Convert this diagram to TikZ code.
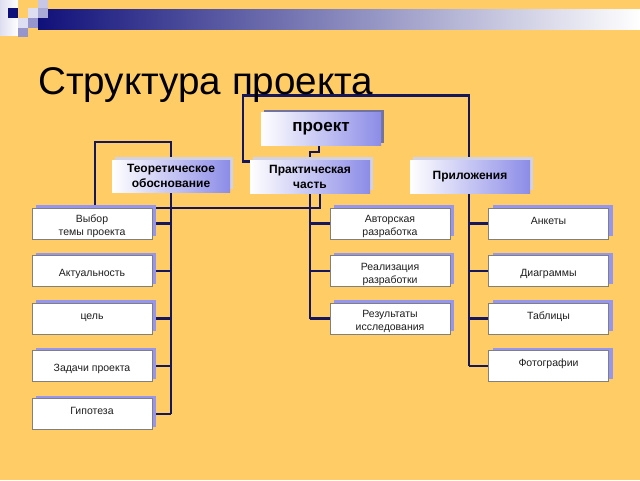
\documentclass[tikz,border=0pt]{standalone}
\usepackage{fontspec}
\setmainfont{Liberation Sans}
\usetikzlibrary{shadows,calc}
\pgfdeclarelayer{back}
\pgfdeclarelayer{lines}
\pgfsetlayers{back,lines,main}
\definecolor{bgor}{RGB}{255,204,102}
\definecolor{navyline}{RGB}{22,22,92}
\definecolor{boxblue}{RGB}{140,140,232}
\definecolor{shleaf}{RGB}{150,150,240}
\definecolor{shhead}{RGB}{210,210,230}
\definecolor{shproj}{RGB}{115,115,160}
\definecolor{barnavy}{RGB}{16,16,122}
\definecolor{barmid}{RGB}{130,130,192}
\definecolor{sqa}{RGB}{200,200,230}
\definecolor{sqb}{RGB}{222,222,242}
\definecolor{sqc}{RGB}{170,170,215}
\definecolor{sqd}{RGB}{150,150,205}
\definecolor{leafgray}{RGB}{128,128,128}
\definecolor{txt}{RGB}{30,30,30}
\newcommand{\lowstrut}{\rule{0pt}{14pt}}
\begin{document}
\begin{tikzpicture}[x=1pt,y=-1pt,
  leaf/.style={draw=leafgray, line width=0.6pt, fill=white, minimum width=120pt,
    minimum height=31pt, inner sep=0pt, align=center, text=txt,
    font=\fontsize{10.5}{13}\selectfont,
    general shadow={fill=shleaf, shadow xshift=4pt, shadow yshift=3pt}},
  head/.style={left color=white, right color=boxblue, minimum width=118pt,
    minimum height=32pt, inner sep=0pt, align=center,
    font=\bfseries\fontsize{12}{15}\selectfont,
    general shadow={fill=#1, shadow xshift=3pt, shadow yshift=3pt}},
  head/.default=shhead,
  conn/.style={draw=navyline, line width=2.2pt}]

\begin{pgfonlayer}{back}
  \fill[bgor] (0,0) rectangle (640,480);
  \shade[left color=barnavy, middle color=barmid, right color=white] (38,9) rectangle (640,29);
  \shade[left color=sqb, right color=white] (0,0) rectangle (18,35);
  \fill[barnavy] (8,8) rectangle (18,18);
  \fill[sqa] (38,0) rectangle (48,8);
  \fill[sqb] (28,8) rectangle (38,18);
  \fill[sqc] (38,8) rectangle (48,18);
  \fill[sqb] (18,18) rectangle (28,28);
  \fill[sqd] (28,18) rectangle (38,28);
  \fill[sqd] (18,28) rectangle (28,37);
\end{pgfonlayer}

\node[anchor=base west, inner sep=0pt, font=\fontsize{38.6}{44}\selectfont] (title) at (38,94) {Структура проекта};

\node[head=shproj, minimum width=120pt, minimum height=33pt,
  font=\bfseries\fontsize{17}{19}\selectfont] (proj) at (321,129) {проект};
\node[head] (teor) at (171,176) {Теоретическое\\обоснование};
\node[head, minimum width=120pt, minimum height=33pt] (prak) at (310,176.5) {Практическая\\часть};
\node[head, minimum width=120pt, minimum height=33pt] (pril) at (470,176.5) {Приложения};

\node[leaf] (vybor) at (92,223.5) {\lowstrut Выбор\\темы проекта};
\node[leaf] (akt) at (92,271) {\lowstrut Актуальность};
\node[leaf] (cel) at (92,318.5) {\lowstrut цель\\~};
\node[leaf] (zad) at (92,366) {\lowstrut Задачи проекта};
\node[leaf] (gip) at (92,414) {\lowstrut Гипотеза\\~};

\node[leaf] (avt) at (390,223.5) {\lowstrut Авторская\\разработка};
\node[leaf] (real) at (390,271) {\lowstrut Реализация\\разработки};
\node[leaf] (res) at (390,318.5) {\lowstrut Результаты\\исследования};

\node[leaf] (ank) at (548.5,223.5) {\lowstrut Анкеты\\~};
\node[leaf] (diag) at (548.5,271) {\lowstrut Диаграммы};
\node[leaf] (tab) at (548.5,318.5) {\lowstrut Таблицы\\~};
\node[leaf] (foto) at (548.5,366) {\lowstrut Фотографии\\~};

\begin{pgfonlayer}{lines}
  % theoretical branch
  \draw[conn] (teor.south) -- (teor.south |- gip.east);
  \foreach \n in {vybor,akt,cel,zad,gip}
    \draw[conn] (\n.east) -- (teor.south |- \n.east);
  \draw[conn] ([xshift=3pt]vybor.north) -- ++(0,-66) -| (teor.north);
  % practical branch
  \draw[conn] ([xshift=-2pt]proj.south) -- ++(0,6) -| (prak.center |- res.west);
  \foreach \n in {avt,real,res}
    \draw[conn] (\n.west) -- (prak.center |- \n.west);
  \draw[conn] ([xshift=10pt]prak.south) |- (vybor.north east);
  \draw[conn] ([yshift=15pt]prak.west) -| ++(-7,-66) -| ([xshift=-1pt]pril.north);
  % appendix branch
  \draw[conn] ([xshift=-1pt]pril.south) -- ([xshift=-1pt]pril.south |- foto.west);
  \foreach \n in {ank,diag,tab,foto}
    \draw[conn] (\n.west) -- ([xshift=-1pt]pril.south |- \n.west);
\end{pgfonlayer}
\end{tikzpicture}
\end{document}
